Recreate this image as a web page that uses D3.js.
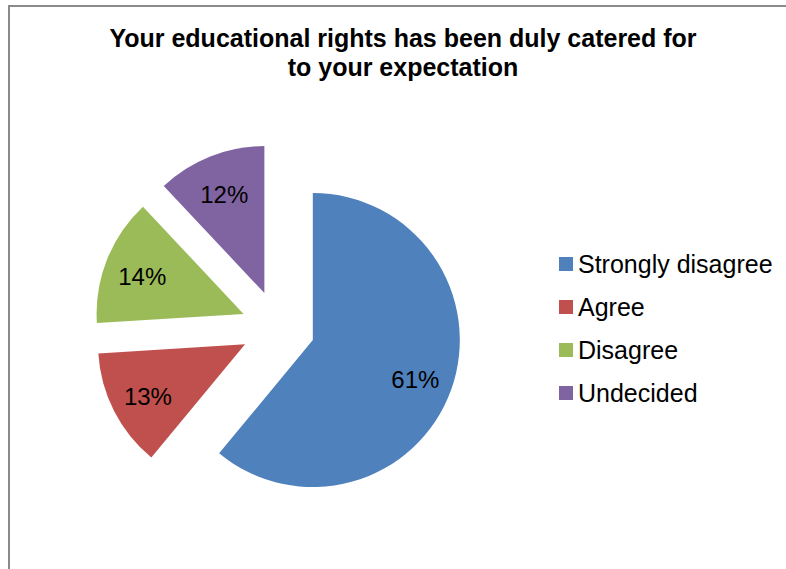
<!DOCTYPE html>
<html>
<head>
<meta charset="utf-8">
<script src="https://cdn.jsdelivr.net/npm/d3@7"></script>
<style>
html,body{margin:0;padding:0;background:#fff;}
svg{display:block;font-family:"Liberation Sans",Arial,sans-serif;}
</style>
</head>
<body>
<svg id="chart" width="786" height="569"></svg>
<script>
const titleLines = ["Your educational rights has been duly catered for", "to your expectation"];
const categories = ["Strongly disagree", "Agree", "Disagree", "Undecided"];
const values = [61, 13, 14, 12];
const labels = ["61%", "13%", "14%", "12%"];
const colors = ["#4F81BD", "#C0504D", "#9BBB59", "#8064A2"];

const svg = d3.select("#chart");

// frame
svg.append("rect").attr("x", 9).attr("y", 6).attr("width", 820).attr("height", 620)
  .attr("fill", "none").attr("stroke", "#8a8a8a").attr("stroke-width", 2);

// title
svg.append("g").selectAll("text").data(titleLines).join("text")
  .attr("x", 403).attr("y", (d, i) => 47 + i * 29)
  .attr("text-anchor", "middle").attr("font-size", 25).attr("font-weight", "bold")
  .attr("fill", "#000").text(d => d);

// pie
const cx = 278, cy = 327.5, R = 147, explode = 37, labelR = 109;
const color = d3.scaleOrdinal().domain(categories).range(colors);
const pie = d3.pie().sort(null).value(d => d.v);
const data = categories.map((c, i) => ({c, v: values[i], l: labels[i]}));
const arcs = pie(data);
const arc = d3.arc().innerRadius(0).outerRadius(R);
const mid = d => (d.startAngle + d.endAngle) / 2;

const g = svg.append("g").attr("transform", `translate(${cx},${cy})`);
const slice = g.selectAll("g.slice").data(arcs).join("g").attr("class", "slice")
  .attr("transform", d => `translate(${explode * Math.sin(mid(d))},${-explode * Math.cos(mid(d))})`);
slice.append("path").attr("d", arc).attr("fill", d => color(d.data.c));
slice.append("text")
  .attr("x", d => labelR * Math.sin(mid(d)))
  .attr("y", d => -labelR * Math.cos(mid(d)) + 3)
  .attr("dy", "0.35em").attr("text-anchor", "middle")
  .attr("font-size", 24).attr("fill", "#000").text(d => d.data.l);

// legend
const ly = d3.scalePoint().domain(categories).range([264, 393]);
const leg = svg.append("g").selectAll("g").data(categories).join("g")
  .attr("transform", d => `translate(559,${ly(d)})`);
leg.append("rect").attr("x", 0).attr("y", -7).attr("width", 14).attr("height", 14)
  .attr("fill", d => color(d));
leg.append("text").attr("x", 19).attr("y", 9).attr("font-size", 25).attr("fill", "#000").text(d => d);
</script>
</body>
</html>
